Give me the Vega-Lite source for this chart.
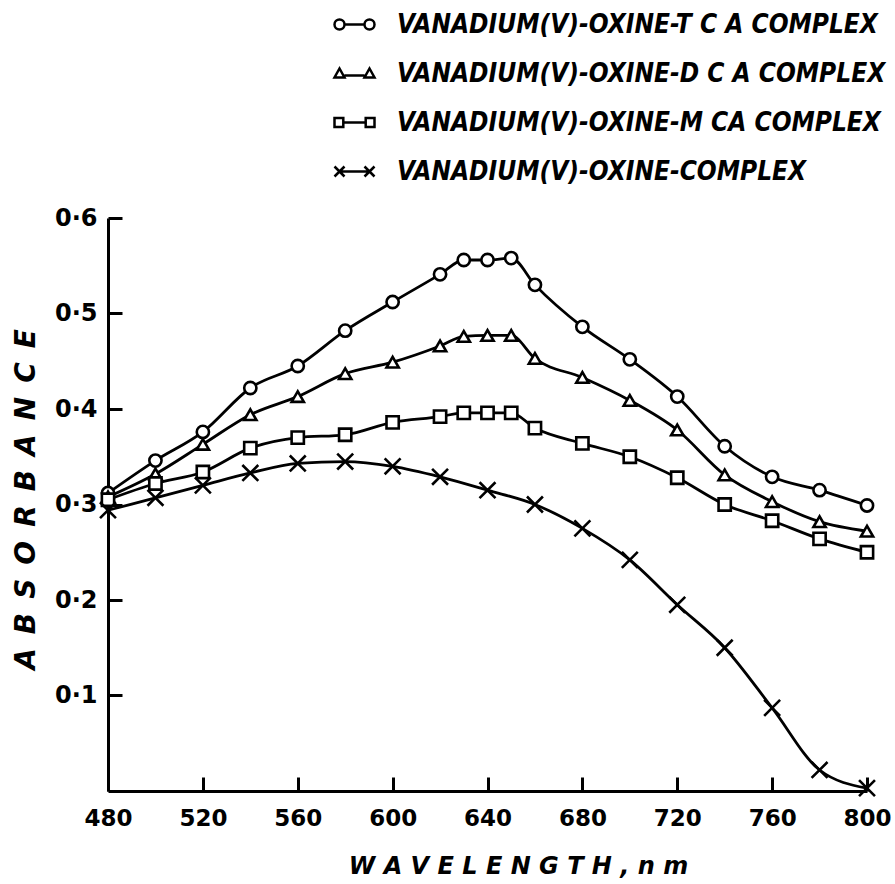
{
  "$schema": "https://vega.github.io/schema/vega-lite/v6.json",
  "autosize": "none",
  "padding": {"left": 108, "top": 218, "right": 28, "bottom": 93},
  "width": 759,
  "height": 573,
  "background": "white",
  "config": {
    "view": {"stroke": null},
    "axis": {
      "grid": false,
      "domainColor": "black",
      "domainWidth": 3,
      "tickColor": "black",
      "tickWidth": 3,
      "tickSize": -14,
      "labelFont": "DejaVu Sans",
      "labelFontWeight": "bold",
      "labelColor": "black",
      "titleColor": "black",
      "titleFont": "DejaVu Sans",
      "titleFontWeight": "bold",
      "titleFontStyle": "italic"
    }
  },
  "data": {
    "values": [
      {"series": "TCA", "wl": 480, "abs": 0.312},
      {"series": "TCA", "wl": 500, "abs": 0.346},
      {"series": "TCA", "wl": 520, "abs": 0.376},
      {"series": "TCA", "wl": 540, "abs": 0.422},
      {"series": "TCA", "wl": 560, "abs": 0.445},
      {"series": "TCA", "wl": 580, "abs": 0.482},
      {"series": "TCA", "wl": 600, "abs": 0.512},
      {"series": "TCA", "wl": 620, "abs": 0.541},
      {"series": "TCA", "wl": 630, "abs": 0.556},
      {"series": "TCA", "wl": 640, "abs": 0.556},
      {"series": "TCA", "wl": 650, "abs": 0.558},
      {"series": "TCA", "wl": 660, "abs": 0.530},
      {"series": "TCA", "wl": 680, "abs": 0.486},
      {"series": "TCA", "wl": 700, "abs": 0.452},
      {"series": "TCA", "wl": 720, "abs": 0.413},
      {"series": "TCA", "wl": 740, "abs": 0.361},
      {"series": "TCA", "wl": 760, "abs": 0.329},
      {"series": "TCA", "wl": 780, "abs": 0.315},
      {"series": "TCA", "wl": 800, "abs": 0.299},
      {"series": "DCA", "wl": 480, "abs": 0.308},
      {"series": "DCA", "wl": 500, "abs": 0.332},
      {"series": "DCA", "wl": 520, "abs": 0.363},
      {"series": "DCA", "wl": 540, "abs": 0.394},
      {"series": "DCA", "wl": 560, "abs": 0.413},
      {"series": "DCA", "wl": 580, "abs": 0.437},
      {"series": "DCA", "wl": 600, "abs": 0.449},
      {"series": "DCA", "wl": 620, "abs": 0.466},
      {"series": "DCA", "wl": 630, "abs": 0.476},
      {"series": "DCA", "wl": 640, "abs": 0.477},
      {"series": "DCA", "wl": 650, "abs": 0.477},
      {"series": "DCA", "wl": 660, "abs": 0.453},
      {"series": "DCA", "wl": 680, "abs": 0.433},
      {"series": "DCA", "wl": 700, "abs": 0.409},
      {"series": "DCA", "wl": 720, "abs": 0.378},
      {"series": "DCA", "wl": 740, "abs": 0.331},
      {"series": "DCA", "wl": 760, "abs": 0.303},
      {"series": "DCA", "wl": 780, "abs": 0.282},
      {"series": "DCA", "wl": 800, "abs": 0.272},
      {"series": "MCA", "wl": 480, "abs": 0.305},
      {"series": "MCA", "wl": 500, "abs": 0.322},
      {"series": "MCA", "wl": 520, "abs": 0.334},
      {"series": "MCA", "wl": 540, "abs": 0.359},
      {"series": "MCA", "wl": 560, "abs": 0.370},
      {"series": "MCA", "wl": 580, "abs": 0.373},
      {"series": "MCA", "wl": 600, "abs": 0.386},
      {"series": "MCA", "wl": 620, "abs": 0.392},
      {"series": "MCA", "wl": 630, "abs": 0.396},
      {"series": "MCA", "wl": 640, "abs": 0.396},
      {"series": "MCA", "wl": 650, "abs": 0.396},
      {"series": "MCA", "wl": 660, "abs": 0.380},
      {"series": "MCA", "wl": 680, "abs": 0.364},
      {"series": "MCA", "wl": 700, "abs": 0.350},
      {"series": "MCA", "wl": 720, "abs": 0.328},
      {"series": "MCA", "wl": 740, "abs": 0.300},
      {"series": "MCA", "wl": 760, "abs": 0.283},
      {"series": "MCA", "wl": 780, "abs": 0.264},
      {"series": "MCA", "wl": 800, "abs": 0.250},
      {"series": "NONE", "wl": 480, "abs": 0.294},
      {"series": "NONE", "wl": 500, "abs": 0.307},
      {"series": "NONE", "wl": 520, "abs": 0.320},
      {"series": "NONE", "wl": 540, "abs": 0.333},
      {"series": "NONE", "wl": 560, "abs": 0.343},
      {"series": "NONE", "wl": 580, "abs": 0.345},
      {"series": "NONE", "wl": 600, "abs": 0.340},
      {"series": "NONE", "wl": 620, "abs": 0.329},
      {"series": "NONE", "wl": 640, "abs": 0.315},
      {"series": "NONE", "wl": 660, "abs": 0.300},
      {"series": "NONE", "wl": 680, "abs": 0.275},
      {"series": "NONE", "wl": 700, "abs": 0.242},
      {"series": "NONE", "wl": 720, "abs": 0.195},
      {"series": "NONE", "wl": 740, "abs": 0.150},
      {"series": "NONE", "wl": 760, "abs": 0.087},
      {"series": "NONE", "wl": 780, "abs": 0.022},
      {"series": "NONE", "wl": 800, "abs": 0.003}
    ]
  },
  "encoding": {
    "x": {
      "field": "wl",
      "type": "quantitative",
      "scale": {"domain": [480, 800], "nice": false, "zero": false},
      "axis": {
        "values": [480, 520, 560, 600, 640, 680, 720, 760, 800],
        "labelFontSize": 23,
        "labelPadding": 30,
        "labelDx": 4,
        "labelFlush": false,
        "title": "W A V E L E N G T H ,  n m",
        "titleFontSize": 24,
        "titleX": 410,
        "titleY": 75,
        "titleAlign": "center",
        "titleBaseline": "middle",
        "titleAnchor": null
      }
    },
    "y": {
      "field": "abs",
      "type": "quantitative",
      "scale": {"domain": [0, 0.6], "nice": false},
      "axis": {
        "values": [0.1, 0.2, 0.3, 0.4, 0.5, 0.6],
        "labelExpr": "replace(format(datum.value, '.1f'), '.', '·')",
        "labelFontSize": 24,
        "labelPadding": 25,
        "labelFlush": false,
        "title": "A\u2002B\u2002S\u2002O\u2002R\u2002B\u2002A\u2002N\u2002C\u2002E",
        "titleFontSize": 28,
        "titleAngle": 270,
        "titleX": -82,
        "titleY": 281,
        "titleAlign": "center",
        "titleBaseline": "middle"
      }
    }
  },
  "resolve": {"scale": {"shape": "independent"}, "legend": {"shape": "independent"}},
  "layer": [
    {
      "mark": {"type": "line", "interpolate": "monotone", "color": "black", "strokeWidth": 2.8},
      "encoding": {"detail": {"field": "series"}}
    },
    {
      "mark": {"type": "point", "filled": true, "fill": "white", "stroke": "black", "strokeWidth": 2.6, "size": 150, "opacity": 1},
      "encoding": {
        "shape": {
          "field": "series",
          "type": "nominal",
          "scale": {
            "domain": ["TCA", "DCA", "MCA", "NONE"],
            "range": ["circle", "triangle-up", "square", "M-1.3,-1.3L1.3,1.3M-1.3,1.3L1.3,-1.3"]
          },
          "legend": null
        }
      }
    },
    {
      "transform": [{"filter": "datum.wl > 1000"}],
      "mark": {"type": "point", "filled": false, "stroke": "black", "strokeWidth": 2.5, "size": 1600, "opacity": 1},
      "encoding": {
        "shape": {
          "field": "series",
          "type": "nominal",
          "scale": {
            "domain": ["TCA", "DCA", "MCA", "NONE"],
            "range": [
              "M-0.5,0A0.25,0.25,0,1,1,-1,0A0.25,0.25,0,1,1,-0.5,0ZM-0.5,0L0.5,0M1,0A0.25,0.25,0,1,1,0.5,0A0.25,0.25,0,1,1,1,0Z",
              "M-1,0.2L-0.5,0.2L-0.75,-0.25ZM-0.5,0.1L0.5,0.1M0.5,0.2L1,0.2L0.75,-0.25Z",
              "M-1,-0.22H-0.56V0.22H-1ZM-0.56,0H0.56M0.56,-0.22H1V0.22H0.56Z",
              "M-1,-0.25L-0.5,0.25M-1,0.25L-0.5,-0.25M-0.75,0H0.75M0.5,-0.25L1,0.25M0.5,0.25L1,-0.25"
            ]
          },
          "legend": {
            "orient": "none",
            "legendX": 225,
            "legendY": -215,
            "title": null,
            "symbolSize": 1600,
            "symbolStrokeWidth": 2.5,
            "symbolStrokeColor": "black",
            "symbolOpacity": 1,
            "rowPadding": 14,
            "labelOffset": 21,
            "labelLimit": 0,
            "labelFont": "DejaVu Sans Condensed",
            "labelFontSize": 26,
            "labelFontStyle": "italic",
            "labelFontWeight": "bold",
            "labelColor": "black",
            "labelExpr": "datum.value === 'TCA' ? 'VANADIUM(Ⅴ)-OXINE-T C A COMPLEX' : datum.value === 'DCA' ? 'VANADIUM(Ⅴ)-OXINE-D C A COMPLEX' : datum.value === 'MCA' ? 'VANADIUM(Ⅴ)-OXINE-M CA COMPLEX' : 'VANADIUM(Ⅴ)-OXINE-COMPLEX'"
          }
        }
      }
    }
  ]
}
